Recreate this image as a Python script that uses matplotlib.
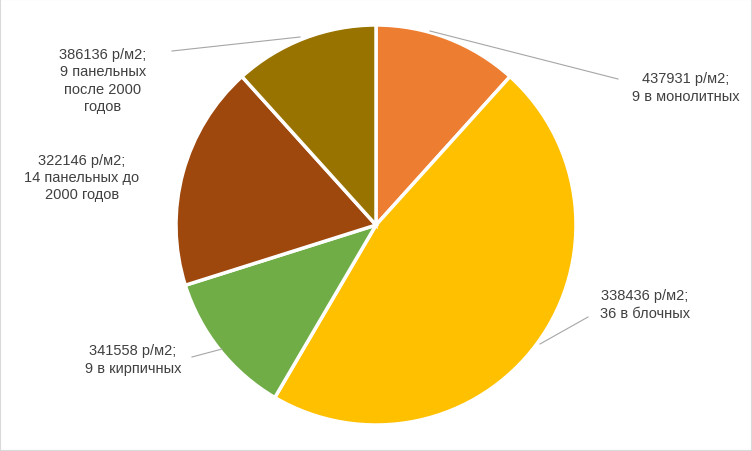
import matplotlib
matplotlib.use("Agg")
from matplotlib import pyplot as plt
from matplotlib.patches import Rectangle

counts = [9, 36, 9, 14, 9]
prices = [437931, 338436, 341558, 322146, 386136]
kinds = ["9 в монолитных", "36 в блочных", "9 в кирпичных",
         "14 панельных до\n2000 годов", "9 панельных\nпосле 2000\nгодов"]
colors = ["#ED7D31", "#FFC000", "#70AD47", "#9E480E", "#997300"]

# label text centre and leader line (pixel coords, top origin)
label_pos = [(686, 88), (645, 305), (133, 360), (82, 178), (103, 81)]
leaders = [[(430, 32), (618, 80)], [(540, 345), (588, 318)],
           [(222, 350), (192, 358)], None, [(300, 38), (172, 52)]]

H = 452
fig = plt.figure(figsize=(7.52, 4.52), dpi=100)
ax = fig.add_axes([0, 0, 1, 1])
ax.set_xlim(0, 752)
ax.set_ylim(0, H)
ax.axis("off")

ax.pie(counts, colors=colors, startangle=90, counterclock=False,
       center=(376, H - 226), radius=200,
       wedgeprops=dict(edgecolor="white", linewidth=2.5))
ax.set_xlim(0, 752)
ax.set_ylim(0, H)
ax.set_aspect("auto")

for i in range(len(counts)):
    x, y = label_pos[i]
    ax.text(x, H - y, f"{prices[i]} р/м2;\n{kinds[i]}", ha="center", va="center",
            fontsize=10.5, color="#404040", family="Liberation Sans", linespacing=1.3)
    if leaders[i]:
        (x0, y0), (x1, y1) = leaders[i]
        ax.plot([x0, x1], [H - y0, H - y1], color="#A6A6A6", lw=0.8)

fig.patches.append(Rectangle((0, 0), 1, 1, transform=fig.transFigure, fill=False,
                             edgecolor="#D9D9D9", lw=1.5))
fig.savefig("out.png", dpi=100)
